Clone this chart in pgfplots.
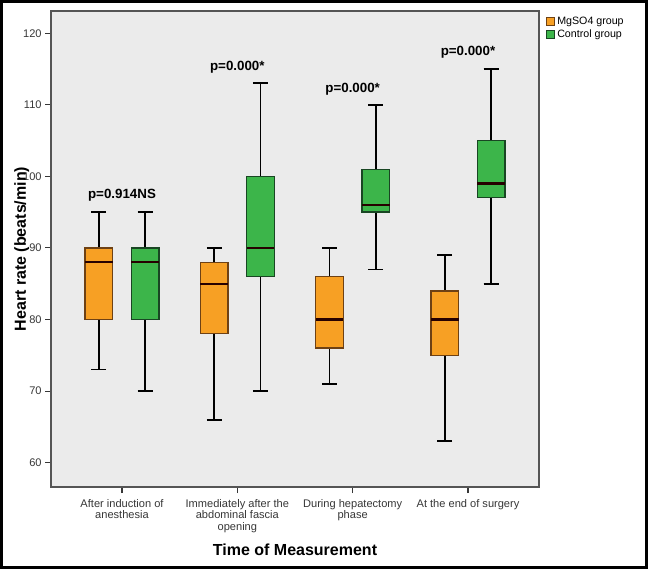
\documentclass[border=0pt]{standalone}
\usepackage{pgfplots}
\pgfplotsset{compat=1.18}
\usepgfplotslibrary{statistics}
\usepackage{fontspec}
\setmainfont{Liberation Sans}
\definecolor{orF}{RGB}{247,160,36}
\definecolor{orD}{RGB}{110,65,20}
\definecolor{grF}{RGB}{60,181,74}
\definecolor{grD}{RGB}{25,70,35}
\definecolor{bgG}{RGB}{235,235,235}
\definecolor{axG}{RGB}{85,85,85}
\definecolor{tkG}{RGB}{55,55,55}
\begin{document}
\begin{tikzpicture}
\useasboundingbox (-38.25pt,-61.5pt) rectangle (447.75pt,365.25pt);
\fill[white] (-38.25pt,-61.5pt) rectangle (447.75pt,365.25pt);
\draw[black, line width=2.4pt] (-37.05pt,-60.3pt) rectangle (446.55pt,364.05pt);
\begin{axis}[
  at={(0pt,0pt)}, anchor=south west,
  scale only axis, width=366pt, height=357pt,
  xmin=0.3844, xmax=4.6156, ymin=56.6, ymax=123.1,
  axis background/.style={fill=bgG},
  axis line style={draw=axG, line width=1.0pt},
  xtick={1,2,3,4},
  xticklabels={{After induction of\\anesthesia},{Immediately after the\\abdominal fascia\\opening},{During hepatectomy\\phase},{At the end of surgery}},
  xticklabel style={align=center, font=\fontsize{8.3}{8.6}\selectfont, text=tkG, yshift=-1pt},
  ytick={60,70,80,90,100,110,120},
  yticklabel style={font=\fontsize{8.3}{9}\selectfont, text=tkG, xshift=1pt},
  /pgf/number format/assume math mode=true,
  tick align=outside, xtick pos=bottom, ytick pos=left,
  major tick length=4.5pt,
  tick style={draw=tkG, line width=0.8pt},
  ylabel={Heart rate (beats/min)},
  xlabel={Time of Measurement},
  every axis y label/.style={at={(axis description cs:-0.06,0.5)}, rotate=90, anchor=center, font=\bfseries\fontsize{12}{14}\selectfont},
  every axis x label/.style={at={(axis description cs:0.5,-0.132)}, anchor=center, font=\bfseries\fontsize{12}{14}\selectfont},
  boxplot/draw direction=y,
  boxplot/box extend=0.24,
  boxplot/whisker extend=0.13,
  boxplot/every box/.style={line width=1.0pt},
  boxplot/every whisker/.style={draw=black, line width=1.25pt},
  boxplot/every median/.style={draw=black!85!red, line width=1.8pt},
  legend style={at={(1,1)}, anchor=north west, xshift=4pt, yshift=-1pt, draw=none, fill=none, font=\fontsize{8}{9}\selectfont, row sep=-1.5pt, inner sep=1pt},
  legend cell align=left,
  clip=false,
]
\addlegendimage{legend image code/.code={\draw[fill=orF, draw=orD, line width=0.5pt] (0pt,-2.9pt) rectangle (6pt,2.9pt);}}
\addlegendentry{MgSO4 group}
\addlegendimage{legend image code/.code={\draw[fill=grF, draw=grD, line width=0.5pt] (0pt,-2.9pt) rectangle (6pt,2.9pt);}}
\addlegendentry{Control group}
% MgSO4 group
\addplot[forget plot, fill=orF, draw=orD, boxplot prepared={draw position=0.8, lower whisker=73, lower quartile=80, median=88, upper quartile=90, upper whisker=95}] coordinates {};
\addplot[forget plot, fill=orF, draw=orD, boxplot prepared={draw position=1.8, lower whisker=66, lower quartile=78, median=85, upper quartile=88, upper whisker=90}] coordinates {};
\addplot[forget plot, fill=orF, draw=orD, boxplot prepared={draw position=2.8, lower whisker=71, lower quartile=76, median=80, upper quartile=86, upper whisker=90}] coordinates {};
\addplot[forget plot, fill=orF, draw=orD, boxplot prepared={draw position=3.8, lower whisker=63, lower quartile=75, median=80, upper quartile=84, upper whisker=89}] coordinates {};
% Control group
\addplot[forget plot, fill=grF, draw=grD, boxplot prepared={draw position=1.2, lower whisker=70, lower quartile=80, median=88, upper quartile=90, upper whisker=95}] coordinates {};
\addplot[forget plot, fill=grF, draw=grD, boxplot prepared={draw position=2.2, lower whisker=70, lower quartile=86, median=90, upper quartile=100, upper whisker=113}] coordinates {};
\addplot[forget plot, fill=grF, draw=grD, boxplot prepared={draw position=3.2, lower whisker=87, lower quartile=95, median=96, upper quartile=101, upper whisker=110}] coordinates {};
\addplot[forget plot, fill=grF, draw=grD, boxplot prepared={draw position=4.2, lower whisker=85, lower quartile=97, median=99, upper quartile=105, upper whisker=115}] coordinates {};
% p-values
\node[font=\bfseries\fontsize{10}{11}\selectfont] at (axis cs:1,97.3) {p=0.914NS};
\node[font=\bfseries\fontsize{10}{11}\selectfont] at (axis cs:2,115.3) {p=0.000*};
\node[font=\bfseries\fontsize{10}{11}\selectfont] at (axis cs:3,112.2) {p=0.000*};
\node[font=\bfseries\fontsize{10}{11}\selectfont] at (axis cs:4,117.3) {p=0.000*};
\end{axis}
\end{tikzpicture}
\end{document}
